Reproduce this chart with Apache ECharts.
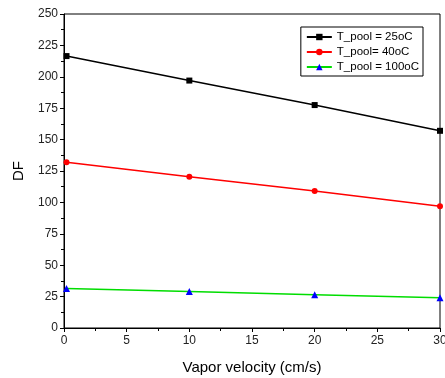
<!DOCTYPE html>
<html><head><meta charset="utf-8">
<script src="https://cdn.jsdelivr.net/npm/echarts@6/dist/echarts.min.js"></script>
<style>html,body{margin:0;padding:0;background:#fff}#c{width:445px;height:378px}</style>
</head><body><div id="c"></div>
<script>
const velocity = [0.2, 10, 20, 30];
const seriesNames = ['T_pool = 25oC', 'T_pool= 40oC', 'T_pool = 100oC'];
const df25 = [216.5, 197, 177.5, 157];
const df40 = [132, 120.5, 109, 97];
const df100 = [31.5, 29, 26.5, 24];
const xTicks = [0, 5, 10, 15, 20, 25, 30];
const yTicks = [0, 25, 50, 75, 100, 125, 150, 175, 200, 225, 250];

const pairs = ys => velocity.map((v, i) => [v, ys[i]]);
const font = 'Liberation Sans, Arial, sans-serif';
const chart = echarts.init(document.getElementById('c'), null, {renderer: 'canvas'});
chart.setOption({
  animation: false,
  backgroundColor: '#fff',
  grid: {left: 64, right: 5, top: 14, bottom: 50, outerBoundsMode: 'none', containLabel: false,
         show: true, borderColor: '#000', borderWidth: 1},
  legend: {
    orient: 'vertical', right: 22, top: 27,
    borderColor: '#000', borderWidth: 1, padding: [4, 4, 3, 5],
    itemWidth: 25, itemHeight: 8, itemGap: 3,
    textStyle: {fontFamily: font, fontSize: 11.5, color: '#000'},
    data: seriesNames
  },
  xAxis: {
    type: 'value', min: xTicks[0], max: xTicks[xTicks.length - 1], interval: 5,
    name: 'Vapor velocity (cm/s)', nameLocation: 'middle', nameGap: 32,
    nameTextStyle: {fontFamily: font, fontSize: 15, color: '#000'},
    axisLine: {lineStyle: {color: '#000', width: 1}},
    axisTick: {show: true, inside: false, length: 4, lineStyle: {color: '#000'}},
    minorTick: {show: true, splitNumber: 2, length: 3, lineStyle: {color: '#000'}},
    axisLabel: {fontFamily: font, fontSize: 12, color: '#222', margin: 7},
    splitLine: {show: false}
  },
  yAxis: {
    type: 'value', min: yTicks[0], max: yTicks[yTicks.length - 1], interval: 25,
    name: 'DF', nameLocation: 'middle', nameGap: 38, nameRotate: 90,
    nameTextStyle: {fontFamily: font, fontSize: 15, color: '#000'},
    axisLine: {lineStyle: {color: '#000', width: 1}},
    axisTick: {show: true, inside: false, length: 4, lineStyle: {color: '#000'}},
    minorTick: {show: true, splitNumber: 2, length: 3, lineStyle: {color: '#000'}},
    axisLabel: {fontFamily: font, fontSize: 12, color: '#222', margin: 6},
    splitLine: {show: false}
  },
  series: [
    {name: seriesNames[0], type: 'line', data: pairs(df25), symbol: 'rect', symbolSize: 6,
     lineStyle: {color: '#000', width: 1.5}, itemStyle: {color: '#000'}},
    {name: seriesNames[1], type: 'line', data: pairs(df40), symbol: 'circle', symbolSize: 6,
     lineStyle: {color: '#ff0000', width: 1.5}, itemStyle: {color: '#ff0000'}},
    {name: seriesNames[2], type: 'line', data: pairs(df100), symbol: 'triangle', symbolSize: 7,
     lineStyle: {color: '#00dd00', width: 1.5}, itemStyle: {color: '#0000ff'}}
  ]
});
</script></body></html>
